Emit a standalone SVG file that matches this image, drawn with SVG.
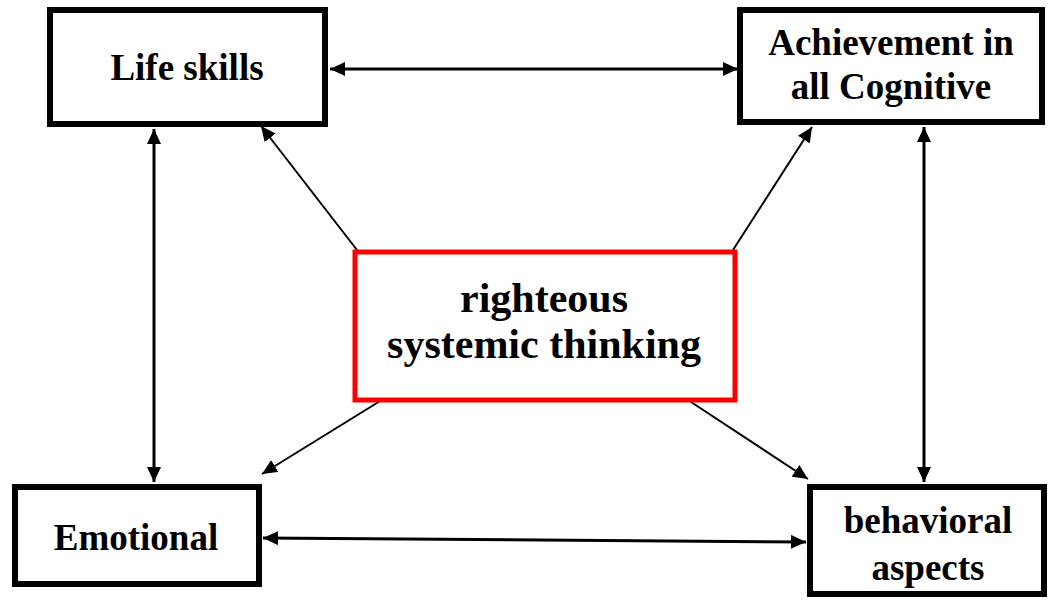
<svg xmlns="http://www.w3.org/2000/svg" width="1052" height="604" viewBox="0 0 1052 604">
<style>
.box{fill:#fff;stroke:#000;stroke-width:6}
.center{fill:#fff;stroke:#ff0000;stroke-width:5}
.t{font-family:"Liberation Serif","Times New Roman",serif;font-weight:bold;font-size:37px;text-anchor:middle;fill:#000}
.tc{font-size:42px}
.thick{stroke:#000;stroke-width:3;fill:none}
.thin{stroke:#000;stroke-width:2;fill:none}
</style>
<defs>
<marker id="ah" markerUnits="userSpaceOnUse" markerWidth="16" markerHeight="14" refX="15" refY="7" orient="auto-start-reverse">
<path d="M0,0 L15,7 L0,14 z" fill="#000"/>
</marker>
</defs>
<rect width="1052" height="604" fill="#fff"/>
<g id="connectors">
<line class="thick" x1="330" y1="69" x2="738" y2="69" marker-start="url(#ah)" marker-end="url(#ah)"/>
<line class="thick" x1="154" y1="129" x2="154" y2="482" marker-start="url(#ah)" marker-end="url(#ah)"/>
<line class="thick" x1="924" y1="127" x2="924" y2="482" marker-start="url(#ah)" marker-end="url(#ah)"/>
<line class="thick" x1="263" y1="538" x2="806" y2="542" marker-start="url(#ah)" marker-end="url(#ah)"/>
<line class="thin" x1="357" y1="250" x2="261" y2="126" marker-end="url(#ah)"/>
<line class="thin" x1="733" y1="250" x2="812" y2="127" marker-end="url(#ah)"/>
<line class="thin" x1="385" y1="398" x2="262" y2="474" marker-end="url(#ah)"/>
<line class="thin" x1="688" y1="400" x2="808" y2="479" marker-end="url(#ah)"/>
</g>
<g id="life-skills">
<rect class="box" x="50" y="10" width="275" height="114"/>
<text class="t" x="187" y="80">Life skills</text>
</g>
<g id="achievement">
<rect class="box" x="740" y="10" width="302" height="112"/>
<text class="t" x="891" y="55">Achievement in</text>
<text class="t" x="891" y="99">all Cognitive</text>
</g>
<g id="emotional">
<rect class="box" x="15" y="487" width="244" height="97"/>
<text class="t" x="136" y="550">Emotional</text>
</g>
<g id="behavioral">
<rect class="box" x="810" y="487" width="234" height="107"/>
<text class="t" x="928" y="533">behavioral</text>
<text class="t" x="928" y="580">aspects</text>
</g>
<g id="center">
<rect class="center" x="355" y="252" width="380" height="148"/>
<text class="t tc" x="544" y="312">righteous</text>
<text class="t tc" x="544" y="358">systemic thinking</text>
</g>
</svg>
